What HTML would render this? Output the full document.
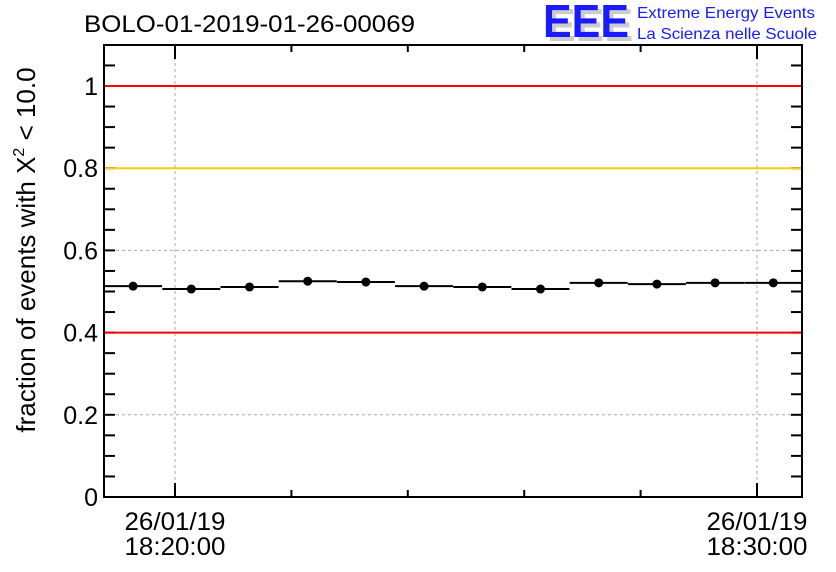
<!DOCTYPE html>
<html><head><meta charset="utf-8"><style>
body{margin:0;background:#fff;}
svg{display:block;font-family:"Liberation Sans",sans-serif;}
</style></head><body>
<svg id="c" width="836" height="572">
<text x="84" y="32" font-size="24" textLength="331" lengthAdjust="spacingAndGlyphs">BOLO-01-2019-01-26-00069</text>
<g>
<text x="547" y="41" font-size="46" font-weight="bold" fill="#ccc" textLength="86" lengthAdjust="spacingAndGlyphs">EEE</text>
<text x="543" y="37" font-size="46" font-weight="bold" fill="#1a1aff" textLength="86" lengthAdjust="spacingAndGlyphs">EEE</text>
<text x="637" y="18" font-size="16" fill="#1a1aff" textLength="178" lengthAdjust="spacingAndGlyphs">Extreme Energy Events</text>
<text x="637" y="39" font-size="16" fill="#1a1aff" textLength="180" lengthAdjust="spacingAndGlyphs">La Scienza nelle Scuole</text>
</g>
<text transform="translate(35,250) rotate(-90)" text-anchor="middle" font-size="26">fraction of events with X<tspan dy="-11" font-size="16">2</tspan><tspan dy="11"> &lt; 10.0</tspan></text>
<g id="grid"></g><g id="axes"></g><g id="refs"></g><g id="marks"></g>
</svg>
<script>
const times=[-0.72,0.28,1.28,2.28,3.28,4.28,5.28,6.28,7.28,8.28,9.28,10.28];
const values=[0.513,0.506,0.511,0.525,0.523,0.513,0.511,0.506,0.521,0.518,0.521,0.521];
const yTicks=[0,0.2,0.4,0.6,0.8,1];
const yTickLabels=["0","0.2","0.4","0.6","0.8","1"];
const xTicks=[0,10];
const xTickLabels=[["26/01/19","18:20:00"],["26/01/19","18:30:00"]];
const refLines=[{v:1,c:"#ff0000"},{v:0.8,c:"#ffcc00"},{v:0.4,c:"#ff0000"}];
const L=104,R=802,T=45,B=497;
const xs=m=>175+m*58.2;
const ys=v=>B-v*411;
const NS="http://www.w3.org/2000/svg";
function mk(p,t,a){const e=document.createElementNS(NS,t);for(const k in a)e.setAttribute(k,a[k]);p.appendChild(e);return e;}
const grid=document.getElementById('grid'),axes=document.getElementById('axes'),marks=document.getElementById('marks'),refs=document.getElementById('refs');
yTicks.forEach((v,i)=>{
 if(v>0&&v<1){const g=mk(grid,'line',{x1:L,x2:R,y1:ys(v),y2:ys(v),stroke:'#aaa','stroke-dasharray':'3,3'});
 
 }
 const t=mk(axes,'text',{x:L-6,y:ys(v)+9,'text-anchor':'end','font-size':25});t.textContent=yTickLabels[i];
 
 
});
xTicks.forEach((m,i)=>{
 const g=mk(grid,'line',{x1:xs(m),x2:xs(m),y1:T,y2:B,stroke:'#aaa','stroke-dasharray':'3,3'});
 
 
 const t=mk(axes,'text',{x:xs(m),y:530,'text-anchor':'middle','font-size':25});
 
 
 mk(t,'tspan',{x:xs(m),textLength:101,lengthAdjust:'spacingAndGlyphs'}).textContent=xTickLabels[i][0];
 mk(t,'tspan',{x:xs(m),dy:25,textLength:101,lengthAdjust:'spacingAndGlyphs'}).textContent=xTickLabels[i][1];
});
for(let m=0;m<=10;m+=2){const x=xs(m);const len=(m%10==0)?14:7;
 mk(axes,'line',{x1:x,x2:x,y1:B,y2:B-len,stroke:'#000','stroke-width':2});
 mk(axes,'line',{x1:x,x2:x,y1:T,y2:T+len,stroke:'#000','stroke-width':2});}
for(let k=0;k<=22;k++){const v=k*0.05;const y=ys(v);if(y<T)continue;
 mk(axes,'line',{x1:L,x2:L+11,y1:y,y2:y,stroke:'#000','stroke-width':2});
 mk(axes,'line',{x1:R,x2:R-11,y1:y,y2:y,stroke:'#000','stroke-width':2});}
const f=mk(axes,'rect',{x:L,y:T,width:R-L,height:B-T,fill:'none',stroke:'#000','stroke-width':2});


refLines.forEach(r=>{const l=mk(refs,'line',{x1:L+1,x2:R-1,y1:ys(r.v),y2:ys(r.v),stroke:r.c,'stroke-width':2});
 
 });
times.forEach((m,i)=>{
 const x=xs(m),y=ys(values[i]);
 const l=mk(marks,'line',{x1:Math.max(L,x-29),x2:Math.min(R,x+29),y1:y,y2:y,stroke:'#000','stroke-width':2});
 
 
 const c=mk(marks,'circle',{cx:x,cy:y,r:4.5,fill:'#000'});
 
 
});
</script>
</body></html>
